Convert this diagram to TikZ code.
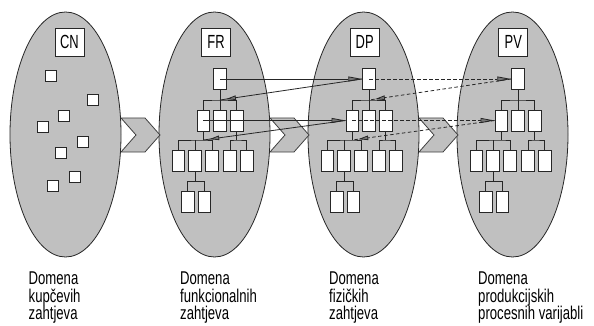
\documentclass[tikz,border=0pt]{standalone}
\usepackage{fontspec}
\newfontfamily\narrowsans[FakeStretch=0.71]{Liberation Sans}
\newfontfamily\titlesans[FakeStretch=0.68]{Liberation Sans}
\usetikzlibrary{arrows.meta,decorations.markings}

\definecolor{silverfill}{RGB}{192,192,192}
\definecolor{arrowgrey}{RGB}{120,120,120}

\tikzset{
  domainshape/.style={draw=black!85, fill=silverfill, line width=0.8pt},
  chevronshape/.style={draw=black!75, fill=silverfill, line width=0.8pt, line join=miter},
  titlebox/.style={draw=black!85, fill=white, line width=0.8pt, inner sep=0pt,
    minimum width=29pt, minimum height=28pt, font=\titlesans\fontsize{19}{19}\selectfont},
  reqbox/.style={draw=black!85, fill=white, line width=0.8pt, inner sep=0pt,
    minimum width=11pt, minimum height=11pt},
  treebox/.style={draw=black!85, fill=white, line width=0.8pt, inner sep=0pt,
    minimum width=12.7pt, minimum height=21pt},
  wire/.style={draw=black!85, line width=0.8pt},
  captext/.style={inner sep=0pt, align=left, anchor=north west,
    font=\narrowsans\fontsize{18.5}{17.5}\selectfont},
  fwdarrow/.style={line width=0.8pt, draw=black!85,
    -{Triangle[length=14pt,width=5pt,fill=arrowgrey]}},
  backarrow/.style={line width=0.8pt, draw=black!85, postaction={decorate},
    decoration={markings, mark=at position -6pt with
      {\arrow{Triangle[length=10pt,width=4.5pt,fill=arrowgrey]}}}},
  brokenline/.style={dash pattern=on 3.5pt off 2.5pt},
}

% Hierarchy of boxes hanging below a top box; #1 = name prefix, #2 = x of the top box
\newcommand{\domaintree}[2]{%
  \node[treebox] (#1t) at (#2,79) {};
  \node[treebox] (#1a) at ({#2-16.7},120.5) {};
  \node[treebox] (#1b) at (#2,120.5) {};
  \node[treebox] (#1c) at ({#2+16.7},120.5) {};
  \node[treebox] (#1d) at ({#2-41.5},161) {};
  \node[treebox] (#1e) at ({#2-24.8},161) {};
  \node[treebox] (#1f) at ({#2-8.1},161) {};
  \node[treebox] (#1g) at ({#2+10},161) {};
  \node[treebox] (#1h) at ({#2+26.7},161) {};
  \node[treebox] (#1i) at ({#2-32.3},202) {};
  \node[treebox] (#1k) at ({#2-15.6},202) {};
  \coordinate (#1j1) at (#2,100);
  \coordinate (#1j2) at ({#2-16.7},140);
  \coordinate (#1j3) at ({#2+16.7},140);
  \coordinate (#1j4) at ({#2-24.8},181.5);
  \draw[wire] (#1t.south) -- (#1j1);
  \draw[wire] (#1a.north) |- (#1j1) -| (#1c.north);
  \draw[wire] (#1j1) -- (#1b.north);
  \draw[wire] (#1a.south) -- (#1j2);
  \draw[wire] (#1d.north) |- (#1j2) -| (#1f.north);
  \draw[wire] (#1e.north) -- (#1e.north |- #1j2);
  \draw[wire] (#1c.south) -- (#1j3);
  \draw[wire] (#1g.north) |- (#1j3) -| (#1h.north);
  \draw[wire] (#1e.south) -- (#1j4);
  \draw[wire] (#1i.north) |- (#1j4) -| (#1k.north);
}

\begin{document}
\begin{tikzpicture}[x=1pt,y=-1pt]
  \useasboundingbox (0,0) rectangle (594,326);

  % the four domains
  \foreach \cx in {65.5,214.5,363.5,512.5}
    \path[domainshape] (\cx,134.5) ellipse [x radius=55.5pt, y radius=122.5pt];

  % mapping chevrons between neighbouring domains
  \foreach \x in {121,270,419}
    \path[chevronshape] (\x,118) -- ++(24,0) -- ++(15,17) -- ++(-15,17) -- ++(-24,0)
      -- ++(15,-17) -- cycle;

  % domain titles
  \node[titlebox] (cn) at (69.5,42) {CN};
  \node[titlebox] (fr) at (216,42) {FR};
  \node[titlebox] (dp) at (364.7,42) {DP};
  \node[titlebox] (pv) at (513.3,42) {PV};

  % scattered customer needs
  \node[reqbox] (cn1) at (51.3,76.3) {};
  \node[reqbox] (cn2) at (93,100.3) {};
  \node[reqbox] (cn3) at (64.3,116.2) {};
  \node[reqbox] (cn4) at (42.5,127.2) {};
  \node[reqbox] (cn5) at (82.5,142.2) {};
  \node[reqbox] (cn6) at (61,152.8) {};
  \node[reqbox] (cn7) at (75,177.2) {};
  \node[reqbox] (cn8) at (53,186.2) {};

  % decomposition hierarchies
  \domaintree{FR}{220}
  \domaintree{DP}{369}
  \domaintree{PV}{518}

  % zigzagging FR -> DP
  \draw[fwdarrow] (FRt.center) -- (DPt.west);
  \draw[backarrow] (DPt.west) -- (FRj1);
  \draw[fwdarrow] (FRa.center) -- (DPa.west);
  \draw[backarrow] (DPa.west) -- (FRj2);

  % zigzagging DP -> PV
  \draw[fwdarrow, brokenline] (DPt.center) -- (PVt.west);
  \draw[backarrow, brokenline] (PVt.west) -- (DPj1);
  \draw[fwdarrow, brokenline] (DPa.center) -- (PVa.west);
  \draw[backarrow, brokenline] (PVa.west) -- (DPj2);

  % captions
  \node[captext] (capcn) at (28.5,272) {Domena\\kupčevih\\zahtjeva};
  \node[captext] (capfr) at (180,272) {Domena\\funkcionalnih\\zahtjeva};
  \node[captext] (capdp) at (329,272) {Domena\\fizičkih\\zahtjeva};
  \node[captext] (cappv) at (478,272) {Domena\\produkcijskih\\procesnih varijabli};
\end{tikzpicture}
\end{document}
